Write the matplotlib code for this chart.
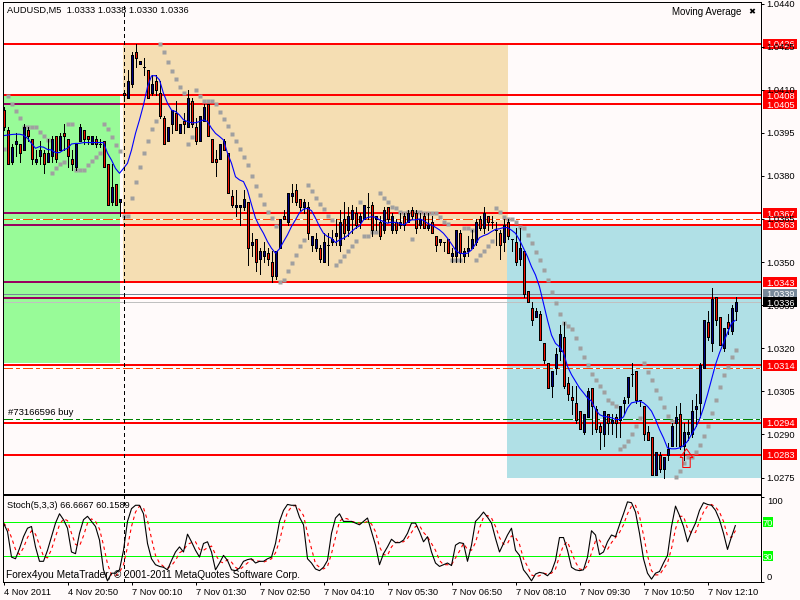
import numpy as np
import matplotlib
matplotlib.use("Agg")
import matplotlib.pyplot as plt
from matplotlib.patches import Rectangle
from matplotlib.path import Path
from matplotlib.transforms import blended_transform_factory

# Prices in pips (price = value / 10000)
opens = [10403,10396,10385,10391,10391,10389,10396,10393,10385,10387,10388,10385,10387,10394,10389,10395,10393,10386,10383,10392,
 10396,10394,10391,10393,10391,10392,10384,10371,10377,10371,10409,10407,10412,10423,10419,10418,10417,10409,10413,10409,
 10400,10392,10398,10402,10395,10399,10397,10406,10397,10392,10399,10405,10393,10386,10386,10392,10388,10373,10369,10369,
 10369,10371,10356,10358,10351,10352,10353,10350,10345,10355,10366,10364,10373,10375,10372,10369,10369,10356,10355,10355,
 10350,10356,10357,10359,10356,10365,10361,10365,10367,10364,10365,10369,10370,10365,10364,10361,10369,10361,10364,10363,
 10366,10364,10368,10367,10363,10366,10362,10364,10359,10357,10357,10358,10352,10352,10360,10352,10354,10355,10357,10365,
 10362,10366,10364,10361,10360,10357,10364,10358,10357,10351,10354,10340,10334,10331,10332,10322,10315,10307,10313,10319,
 10324,10308,10303,10301,10298,10291,10296,10306,10299,10293,10290,10297,10294,10296,10295,10301,10303,10311,10312,10302,
 10300,10291,10289,10276,10283,10278,10283,10286,10294,10297,10286,10290,10290,10299,10301,10313,10329,10322,10338,10331,
 10320,10329,10326,10333]
highs = [10404,10397,10391,10395,10391,10398,10397,10393,10389,10392,10389,10393,10394,10394,10395,10398,10393,10389,10391,10398,
 10396,10394,10394,10394,10393,10392,10384,10384,10377,10372,10410,10417,10423,10426,10420,10421,10417,10415,10415,10413,
 10401,10397,10403,10406,10398,10402,10410,10407,10400,10401,10405,10405,10393,10389,10391,10393,10388,10375,10375,10370,
 10375,10371,10360,10358,10355,10357,10355,10354,10354,10365,10368,10374,10377,10377,10372,10372,10371,10359,10360,10356,
 10360,10360,10361,10365,10368,10371,10369,10370,10369,10367,10370,10374,10371,10366,10366,10369,10369,10367,10365,10367,
 10367,10368,10369,10368,10367,10367,10367,10366,10359,10358,10357,10358,10355,10361,10361,10355,10359,10361,10365,10366,
 10369,10366,10366,10364,10361,10365,10365,10358,10362,10362,10354,10340,10336,10334,10333,10322,10315,10312,10320,10328,
 10329,10310,10307,10307,10298,10297,10306,10306,10300,10294,10298,10297,10297,10297,10300,10303,10310,10315,10312,10302,
 10300,10293,10289,10284,10284,10282,10287,10294,10300,10301,10294,10295,10302,10304,10315,10330,10333,10341,10338,10331,
 10327,10332,10335,10338]
lows = [10396,10384,10384,10387,10385,10389,10392,10384,10384,10384,10381,10385,10385,10385,10389,10389,10383,10382,10382,10392,
 10391,10391,10391,10390,10390,10383,10370,10370,10370,10366,10406,10407,10411,10418,10419,10415,10407,10408,10408,10400,
 10391,10392,10395,10396,10395,10395,10397,10397,10391,10392,10399,10394,10385,10380,10386,10389,10374,10369,10366,10363,
 10368,10349,10352,10347,10346,10350,10349,10343,10344,10355,10365,10363,10371,10370,10368,10367,10358,10354,10354,10350,
 10350,10349,10356,10356,10354,10358,10359,10360,10362,10362,10365,10365,10359,10361,10358,10360,10364,10360,10360,10362,
 10361,10364,10365,10360,10362,10362,10361,10360,10354,10356,10354,10353,10350,10350,10350,10350,10352,10355,10356,10361,
 10360,10361,10362,10356,10351,10354,10358,10354,10349,10349,10338,10336,10328,10331,10323,10315,10306,10303,10311,10316,
 10306,10302,10297,10294,10292,10290,10296,10290,10291,10285,10286,10290,10290,10289,10289,10297,10301,10307,10301,10300,
 10288,10288,10276,10276,10277,10275,10281,10286,10286,10285,10281,10288,10289,10293,10296,10313,10323,10319,10328,10321,
 10319,10325,10325,10330]
closes = [10397,10384,10390,10392,10388,10397,10394,10386,10386,10389,10384,10388,10393,10386,10394,10394,10387,10384,10391,10397,
 10393,10393,10394,10391,10391,10383,10370,10376,10370,10372,10408,10413,10422,10421,10420,10418,10407,10412,10410,10401,
 10391,10397,10403,10396,10398,10398,10407,10398,10392,10401,10404,10394,10385,10385,10391,10389,10374,10370,10370,10370,
 10372,10355,10357,10350,10354,10354,10351,10345,10354,10365,10365,10374,10374,10371,10369,10371,10360,10359,10358,10351,
 10357,10356,10358,10360,10364,10360,10366,10368,10363,10366,10370,10369,10361,10366,10359,10368,10365,10366,10361,10364,
 10363,10367,10366,10362,10365,10362,10363,10360,10356,10358,10357,10353,10353,10361,10353,10354,10355,10358,10364,10362,
 10367,10364,10364,10361,10356,10363,10359,10358,10350,10355,10339,10336,10330,10333,10323,10316,10306,10312,10318,10325,
 10307,10304,10302,10295,10292,10297,10305,10300,10292,10291,10298,10294,10295,10294,10300,10302,10310,10311,10302,10302,
 10290,10288,10276,10284,10278,10282,10285,10293,10296,10286,10291,10291,10298,10300,10314,10330,10324,10337,10330,10321,
 10327,10327,10334,10336]
moving_average = [10394,10394.2,10394.4,10394.5,10394.5,10394.2,10393.1,10391.3,10389.6,10390.2,10390,10389.2,10389,10388.1,10388.1,10389,10389.6,10391.1,10391.3,10391.3,
 10391.6,10391.6,10391.6,10391.6,10391.6,10391.6,10387.9,10385.5,10382.6,10380.9,10382.6,10384.4,10389,10394.8,10399.5,10404.7,10411,10414.8,10414.9,10413.4,
 10408.7,10405.3,10402.9,10402.4,10401.2,10399.5,10398.9,10398.5,10398.5,10398.9,10399.5,10398.9,10396.6,10394.8,10393.7,10392.5,10387.9,10384.4,10379.7,10378.6,
 10378,10375,10370,10365.3,10362.4,10360,10357.1,10354.8,10353.1,10354.6,10357.1,10359.5,10362.4,10364.7,10367.2,10368.4,10368.7,10367.9,10365.3,10362.4,
 10360,10358.9,10358.3,10356.8,10357.7,10358.3,10359.2,10360.6,10361.8,10362.6,10364.7,10365.5,10365.8,10365.6,10364.7,10364.1,10363.5,10363.9,10363.8,10363.5,
 10362.9,10363.8,10364.7,10364.7,10365,10364.5,10363.5,10362.9,10362.1,10361.2,10360,10358.3,10356.3,10354.2,10353.1,10352.9,10353.1,10354.2,10356.3,10358.5,
 10359.2,10359.7,10360.6,10361.4,10361.6,10362,10362,10361.1,10360,10357.7,10354.8,10351.9,10348.4,10345.5,10341.4,10335.6,10329.8,10324.6,10321.7,10320.5,
 10318.4,10313.7,10310.8,10308.5,10306.2,10304.5,10302.7,10301.6,10298.7,10296.9,10296.3,10296.1,10295.8,10295.2,10295.2,10296.1,10299.2,10301,10301.3,10301.6,
 10301,10299.8,10298.1,10295.2,10291.7,10288.8,10285.3,10285,10285,10285.3,10286.1,10287.6,10290,10292.3,10295.2,10299.2,10303.9,10309.1,10314.3,10318.4,
 10321.9,10325.4,10328.7,10329.8]
sar = [10389.4,10407.8,10405,10402.6,10400.2,10397.1,10396.9,10397.1,10397.1,10395.3,10393.9,10392.5,10381.1,10382.6,10384,10384.9,10398,10398,10382,10382,
 10382,10383.8,10385.3,10386.5,10388.1,10398,10396.3,10393.7,10390.8,10388.8,10366,10366,10372.2,10377.9,10383.2,10388,10392.3,10396.2,10399.2,10425.9,
 10423.1,10419.6,10416.6,10413.7,10411,10408.7,10391.1,10393.4,10409.9,10407.9,10406.2,10406.2,10406.2,10405,10402.4,10399.7,10397.4,10394.6,10392.3,10389.4,
 10386.5,10383.8,10380,10376.5,10373.3,10370.2,10367.4,10365.5,10362.6,10342.9,10343.8,10346.9,10349.6,10352.5,10355.6,10357.7,10376.9,10374.8,10372.2,10370.3,
 10368.4,10366.1,10364.5,10349,10350.5,10352.2,10353.9,10355.6,10357.4,10370.8,10359.1,10359.1,10360.6,10360.6,10374.2,10372.2,10370.8,10369.1,10368.7,10367.6,
 10367,10367.6,10358.1,10367.6,10367.6,10367,10367,10367,10367,10365.6,10364.1,10363.3,10350.8,10350.8,10350.8,10361.8,10361.8,10361,10350.8,10352.5,
 10353.9,10355.6,10357.5,10368.7,10367.4,10365.6,10365,10365,10364,10362.1,10361.7,10359.4,10356.7,10353.6,10350.7,10347.2,10343.7,10339.7,10335.6,10331.9,
 10328.9,10327.7,10326.7,10323.4,10320.1,10317,10314,10311.2,10308.9,10306.8,10304.8,10302.1,10301,10299.8,10285,10286.1,10287.6,10290.3,10293.1,10295.8,
 10314.9,10311.8,10309.1,10305.6,10302.7,10299.5,10296.3,10294.8,10275.1,10277.4,10279.9,10282.2,10282.2,10283.9,10286.5,10289.6,10293.1,10297.3,10302.1,10306.4,
 10310.8,10313.5,10316.9,10319.3]
stoch_main = [69,59,29,27,39,53,63,65,41,24,24,37,53,69,80,73,63,35,33,57,73,77,71,65,49,14,1,10,10,14,37,71,86,90,90,80,45,27,20,18,
 17,14,25,35,41,35,56,47,37,29,45,47,35,14,22,31,25,14,13,16,24,26,27,22,24,24,27,29,45,71,84,91,90,90,76,67,27,22,15,13,
 17,25,57,75,80,71,71,71,69,67,71,75,59,43,20,33,41,50,46,46,49,57,69,69,59,47,53,35,22,18,20,22,19,43,46,45,24,43,71,76,
 82,76,69,51,35,45,55,63,37,31,14,8,1,9,11,10,7,12,25,52,52,37,17,14,13,14,29,60,55,32,35,47,55,53,67,80,94,93,82,57,
 27,10,3,10,12,22,31,65,89,78,65,47,59,69,84,93,91,90,84,73,57,38,53,66.67]
stoch_signal = [69,64,52,38,32,40,52,60,56,43,30,28,38,53,67,74,72,57,44,42,54,69,74,71,62,43,21,8,7,11,20,41,65,82,89,87,72,51,31,22,
 18,16,19,25,34,37,44,46,47,38,37,40,42,32,24,22,26,23,17,14,18,22,26,25,24,23,25,27,34,48,67,82,88,90,85,78,57,39,21,17,
 15,18,33,52,71,75,74,71,70,69,69,71,68,59,41,32,31,41,46,47,47,51,58,65,66,58,53,45,37,25,20,20,20,28,36,45,38,37,46,63,
 76,78,75,65,52,44,45,54,52,44,27,18,8,6,7,10,9,10,15,30,43,47,35,23,15,14,19,34,48,49,41,38,46,52,58,67,80,89,90,77,
 55,31,13,8,8,15,22,39,62,77,77,63,57,58,71,82,89,91,88,82,71,54,52,60.16]

time_labels = ["4 Nov 2011","4 Nov 20:50","7 Nov 00:10","7 Nov 01:30","7 Nov 02:50","7 Nov 04:10",
               "7 Nov 05:30","7 Nov 06:50","7 Nov 08:10","7 Nov 09:30","7 Nov 10:50","7 Nov 12:10"]
price_ticks = [10440,10425,10410,10395,10380,10365,10350,10335,10320,10305,10290,10275]
red_levels = [10426,10408,10405,10367,10363,10343,10337.5,10314,10294,10283]
red_tags = [10426,10408,10405,10367,10363,10343,10314,10294,10283]
green_zone_levels = [10405,10367,10363,10343,10337.5]
dash_levels = [10365,10313]
order_level = 10295.5
ask_level = 10339
bid_level = 10336
arrow_bar, arrow_price = 170.6, 10282.2
separator_bar = 30
zones = [(0,29,10315,10408,"#98FB98"),(30,126,10343,10426,"#F5DEB3"),(126,189.25,10275,10363,"#B0E0E6")]
stoch_levels = [70,30]

BG = "#FFFAFA"
PX = 0.72
FS = 6.7
plt.rcParams.update({"font.family":"Liberation Sans","font.size":FS,"lines.antialiased":False,
                     "patch.antialiased":False,"lines.solid_capstyle":"butt","lines.dash_capstyle":"butt"})
fig = plt.figure(figsize=(8,6),dpi=100,facecolor=BG)
def box(l,t,r,b):
    return fig.add_axes([l/800,1-b/600,(r-l)/800,(b-t)/600],facecolor=BG)
ax = box(2.5,2.0,760.5,493.5)
sx = box(2.5,495.0,760.5,581.7)
xlim = (-0.25,189.25)
for a in (ax,sx):
    a.set_xlim(*xlim)
    a.set_axisbelow(False)
    for s in a.spines.values():
        s.set_linewidth(PX)
        s.set_color("black")
ax.set_ylim(1.0440-(493.5-3.5)/28730,1.0440+1.5/28730)
sx.set_ylim(0,102.1)
P = lambda v: np.asarray(v,dtype=float)/10000
x = np.arange(len(closes))
o,h,l,c = P(opens),P(highs),P(lows),P(closes)

for x0,x1,p0,p1,col in zones:
    ax.add_patch(Rectangle((x0-0.1,p0/10000),x1-x0+0.1,(p1-p0)/10000,fc=col,ec="none",lw=0,zorder=0.5))
for lv in red_levels:
    ax.axhline(lv/10000,color="red",lw=2*PX,zorder=1)
for lv in green_zone_levels:
    ax.plot([xlim[0],29],[lv/10000]*2,color="#99005F",lw=2*PX,zorder=1.05)
for lv in dash_levels:
    ax.axhline(lv/10000,color="white",lw=PX,zorder=1.1)
    ax.axhline(lv/10000,color="#FF4500",lw=PX,dashes=(10,4,3,4),zorder=1.2)
ax.axhline(order_level/10000,color="white",lw=PX,zorder=1.1)
ax.axhline(order_level/10000,color="#008000",lw=PX,dashes=(10,4,3,4),zorder=1.2)
ax.axhline(ask_level/10000,color="#778899",lw=PX,zorder=1.15)
ax.axhline(bid_level/10000,color="#C0C0C0",lw=PX,zorder=1.15)

ax.plot(x,P(sar),ls="none",marker="s",ms=3.1*PX,mfc="#A0A0A0",mec="none",zorder=1.4)
ax.vlines(x,l,h,color="black",lw=PX,zorder=1.5)
up = c>=o
ax.bar(x,np.abs(c-o),bottom=np.minimum(o,c),width=0.5,color=np.where(up,"#000080","#EE1100"),
       edgecolor="black",linewidth=PX,zorder=1.6)
ax.plot(x,P(moving_average),color="#0000FF",lw=0.8,antialiased=True,zorder=1.7)
ax.axvline(separator_bar,ymin=-0.012,color="black",lw=PX,dashes=(3,3),clip_on=False,zorder=1.8)
sx.axvline(separator_bar,color="black",lw=PX,dashes=(3,3),zorder=1)
arrow = Path([(0,8.7),(6.3,0),(3.7,0),(3.7,-10),(-3.7,-10),(-3.7,0),(-6.3,0),(0,8.7)],closed=True)
ax.plot([arrow_bar],[arrow_price/10000],ls="none",marker=arrow,ms=20*PX,mfc="none",mec="red",mew=PX,zorder=1.9)

ax.set_xticks([])
ax.yaxis.tick_right()
ax.set_yticks(P(price_ticks),[f"{v/10000:.4f}" for v in price_ticks])
ax.tick_params(axis="y",length=3*PX,width=PX,pad=3*PX,labelsize=FS)

tr = blended_transform_factory(ax.transAxes,ax.transData)
tagx0,tagw,textx = (762.8-2.5)/758,34.5/758,(766.5-2.5)/758
taghh = 5.1/28730
def tag(level,fc,tc,z):
    p = level/10000
    ax.add_patch(Rectangle((tagx0,p-taghh),tagw,2*taghh,transform=tr,fc=fc,ec="none",clip_on=False,zorder=z))
    ax.text(textx,p,f"{p:.4f}",transform=tr,color=tc,va="center_baseline",ha="left",clip_on=False,zorder=z+0.01)
for lv in red_tags:
    tag(lv,"red","white",2.0)
tag(ask_level,"#778899","white",3.0)
tag(bid_level,"black","white",3.1)

def ftext(px,py,s,size=FS):
    fig.text(px/800,1-py/600,s,va="center",ha="left",color="black",fontsize=size,zorder=5)
ftext(7,10.8,"AUDUSD,M5  1.0333 1.0338 1.0330 1.0336")
ftext(672,12,"Moving Average",7.0)
fig.text(752/800,1-12/600,"✖",family="DejaVu Sans",fontsize=6,ha="center",va="center",color="black",zorder=5)
ftext(8,412.6,"#73166596 buy",6.8)
ftext(7,505.6,"Stoch(5,3,3) 66.6667 60.1589")
ftext(6,575,"Forex4you MetaTrader, © 2001-2011 MetaQuotes Software Corp.",7.25)

for lv in stoch_levels:
    sx.axhline(lv,color="#00FF00",lw=PX,zorder=0.8)
sx.plot(x,stoch_signal,color="red",lw=0.8,antialiased=True,dashes=(3,3),zorder=1.1)
sx.plot(x,stoch_main,color="black",lw=0.8,antialiased=True,zorder=1.2)
sx.yaxis.tick_right()
sx.set_yticks([0,100],["0","100"])
sx.get_yticklabels()[0].set_va("bottom")
sx.get_yticklabels()[1].set_va("top")
sx.tick_params(axis="y",length=3*PX,width=PX,pad=3.5*PX,labelsize=FS)
sx.set_xticks(np.arange(len(time_labels))*16,time_labels)
for t in sx.get_xticklabels():
    t.set_ha("left")
sx.tick_params(axis="x",length=3*PX,width=PX,pad=3*PX,labelsize=FS)
tr2 = blended_transform_factory(sx.transAxes,sx.transData)
for lv in stoch_levels:
    sx.add_patch(Rectangle(((762.5-2.5)/758,lv-5.7),10/758,11.4,transform=tr2,fc="#00FF00",ec="none",clip_on=False,zorder=2))
    sx.text((767.5-2.5)/758,lv,str(lv),transform=tr2,color="white",ha="center",va="center_baseline",clip_on=False,zorder=3)

fig.savefig("out.png",dpi=100,facecolor=BG)
